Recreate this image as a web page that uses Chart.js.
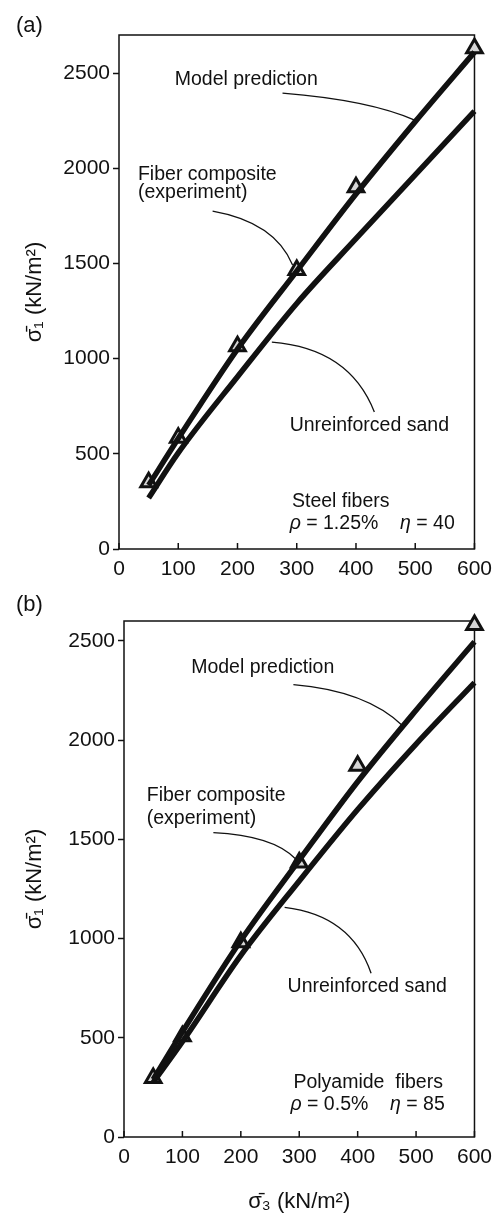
<!DOCTYPE html>
<html lang="en">
<head>
<meta charset="UTF-8">
<title>Fiber composite vs unreinforced sand</title>
<style>
  body { margin: 0; background: #fff; }
  #wrap { position: relative; width: 500px; height: 1216px; overflow: hidden; }
  canvas { position: absolute; left: 0; }
  #chartA { top: 0; }
  #chartB { top: 580px; }
</style>
</head>
<body>
<div id="wrap">
  <canvas id="chartA" width="500" height="600"></canvas>
  <canvas id="chartB" width="500" height="636"></canvas>
</div>

<script src="https://cdn.jsdelivr.net/npm/chart.js@4.4.2/dist/chart.umd.min.js"></script>
<script>
// confining stress sigma3 (kN/m2)
const sigma3Exp = [50, 100, 200, 300, 400, 600];
const sigma3Curve = [50, 100, 200, 300, 400, 500, 600];

// (a) steel fibers
const steelExp = [350, 585, 1065, 1465, 1900, 2630];
const steelModel = [335, 580, 1050, 1460, 1865, 2245, 2610];
const steelSand = [268, 505, 905, 1290, 1630, 1965, 2300];

// (b) polyamide fibers
const polyExp = [297, 508, 981, 1383, 1871, 2580];
const polyModel = [290, 530, 990, 1395, 1790, 2150, 2495];
const polySand = [275, 480, 915, 1290, 1650, 1980, 2290];

const xTicks = [0, 100, 200, 300, 400, 500, 600];
const yTicks = [0, 500, 1000, 1500, 2000, 2500];

const FONT = "'Liberation Sans', Arial, Helvetica, sans-serif";
const INK = '#111';

var pts = function (xs, ys) {
    return xs.map(function (v, i) { return { x: v, y: ys[i] }; });
};

// frame, inward x ticks, notes and leader curves
const figurePlugin = {
    id: 'figure',
    beforeDatasetsDraw(chart) {
        const { ctx, chartArea: a, scales: { x } } = chart;
        ctx.save();
        ctx.strokeStyle = INK;
        ctx.lineWidth = 1.5;
        ctx.strokeRect(a.left, a.top, a.right - a.left, a.bottom - a.top);
        x.ticks.forEach(function (t) {
            const px = x.getPixelForValue(t.value);
            ctx.beginPath();
            ctx.moveTo(px, a.bottom);
            ctx.lineTo(px, a.bottom - 6);
            ctx.stroke();
        });
        ctx.restore();
    },
    afterDraw(chart, args, opts) {
        const { ctx, scales: { x, y } } = chart;
        ctx.save();
        ctx.fillStyle = INK;
        ctx.textBaseline = 'middle';
        ctx.textAlign = 'left';
        ctx.font = '22px ' + FONT;
        ctx.fillText(opts.label, 16, opts.labelY);

        opts.notes.forEach(function (n) {
            let px = x.getPixelForValue(n.x);
            const py = y.getPixelForValue(n.y);
            n.parts.forEach(function (p) {
                ctx.font = (p[1] ? 'italic ' : '') + '19.5px ' + FONT;
                ctx.fillText(p[0], px, py);
                px += ctx.measureText(p[0]).width;
            });
        });

        ctx.strokeStyle = INK;
        ctx.lineWidth = 1.3;
        opts.leaders.forEach(function (l) {
            ctx.beginPath();
            ctx.moveTo(x.getPixelForValue(l[0]), y.getPixelForValue(l[1]));
            ctx.quadraticCurveTo(x.getPixelForValue(l[2]), y.getPixelForValue(l[3]),
                x.getPixelForValue(l[4]), y.getPixelForValue(l[5]));
            ctx.stroke();
        });
        ctx.restore();
    }
};

var curve = function (data) {
    return {
        data: data,
        showLine: true,
        borderColor: INK,
        borderWidth: 5.5,
        pointRadius: 0,
        cubicInterpolationMode: 'monotone',
        clip: false,
    };
};

var plain = function (v) { return String(v); };

var makeChart = function (id, p) {
    return new Chart(document.getElementById(id), {
        type: 'scatter',
        data: {
            datasets: [
                curve(pts(sigma3Curve, p.model)),
                curve(pts(sigma3Curve, p.sand)),
                {
                    data: pts(sigma3Exp, p.exp),
                    pointStyle: 'triangle',
                    pointRadius: 9,
                    pointBorderWidth: 3,
                    pointBorderColor: INK,
                    pointBackgroundColor: '#d6d6d6',
                    clip: false,
                },
            ]
        },
        plugins: [figurePlugin],
        options: {
            responsive: false,
            animation: false,
            events: [],
            layout: { padding: { top: p.top, right: p.right, left: 0, bottom: 0 } },
            scales: {
                x: {
                    type: 'linear',
                    min: 0,
                    max: 600,
                    afterBuildTicks: function (s) { s.ticks = xTicks.map(function (v) { return { value: v }; }); },
                    afterFit: function (s) { s.height = p.xHeight; },
                    grid: { display: false, drawTicks: false },
                    border: { display: false },
                    ticks: { color: INK, padding: 8, callback: plain, font: { family: FONT, size: 21 } },
                    title: {
                        display: p.xTitle,
                        text: '\u03C3\u0304\u2083 (kN/m\u00B2)',
                        color: INK,
                        padding: { top: 0, bottom: 1 },
                        font: { family: FONT, size: 22 },
                    },
                },
                y: {
                    type: 'linear',
                    min: 0,
                    max: p.yMax,
                    afterBuildTicks: function (s) { s.ticks = yTicks.map(function (v) { return { value: v }; }); },
                    afterFit: function (s) { s.width = p.yWidth; },
                    grid: { drawOnChartArea: false, tickLength: 6, tickColor: INK, tickWidth: 1.5 },
                    border: { display: false },
                    ticks: { color: INK, padding: 3, callback: plain, font: { family: FONT, size: 21 } },
                    title: {
                        display: true,
                        text: '\u03C3\u0304\u2081 (kN/m\u00B2)',
                        color: INK,
                        padding: { top: 22, bottom: 0 },
                        font: { family: FONT, size: 22 },
                    },
                },
            },
            plugins: {
                legend: { display: false },
                tooltip: { enabled: false },
                figure: p.figure,
            },
        }
    });
};

makeChart('chartA', {
    model: steelModel, sand: steelSand, exp: steelExp,
    yMax: 2700, top: 35, right: 25, yWidth: 119, xHeight: 51, xTitle: false,
    figure: {
        label: '(a)', labelY: 26,
        notes: [
            { x: 94, y: 2463, parts: [['Model prediction', false]] },
            { x: 32, y: 1964, parts: [['Fiber composite', false]] },
            { x: 32, y: 1870, parts: [['(experiment)', false]] },
            { x: 288, y: 646, parts: [['Unreinforced sand', false]] },
            { x: 292, y: 247, parts: [['Steel fibers', false]] },
            { x: 288, y: 131, parts: [['\u03C1', true], [' = 1.25%    ', false], ['\u03B7', true], [' = 40', false]] },
        ],
        leaders: [
            [276, 2395, 423, 2358, 499, 2253],
            [158, 1775, 263, 1717, 293, 1492],
            [258, 1087, 389, 1055, 431, 720],
        ],
    },
});

makeChart('chartB', {
    model: polyModel, sand: polySand, exp: polyExp,
    yMax: 2600, top: 41, right: 20, yWidth: 124, xHeight: 79, xTitle: true,
    figure: {
        label: '(b)', labelY: 25,
        notes: [
            { x: 115, y: 2364, parts: [['Model prediction', false]] },
            { x: 39, y: 1720, parts: [['Fiber composite', false]] },
            { x: 39, y: 1605, parts: [['(experiment)', false]] },
            { x: 280, y: 760, parts: [['Unreinforced sand', false]] },
            { x: 290, y: 272, parts: [['Polyamide  fibers', false]] },
            { x: 285, y: 161, parts: [['\u03C1', true], [' = 0.5%    ', false], ['\u03B7', true], [' = 85', false]] },
        ],
        leaders: [
            [290, 2279, 415, 2248, 477, 2072],
            [153, 1534, 255, 1519, 293, 1403],
            [275, 1157, 389, 1117, 423, 825],
        ],
    },
});
</script>
</body>
</html>
